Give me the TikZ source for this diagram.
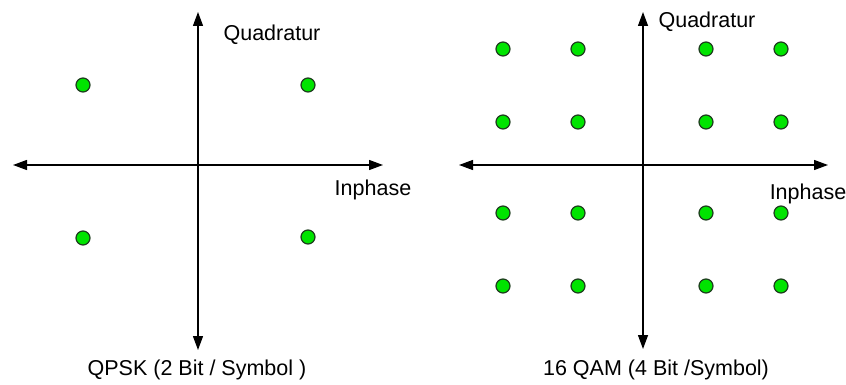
\documentclass[tikz,border=0pt]{standalone}
\usepackage{fontspec}
\setmainfont{Liberation Sans}
\usetikzlibrary{arrows.meta}
\definecolor{dotgreen}{RGB}{0,228,0}
\definecolor{dotedge}{RGB}{30,60,30}
\tikzset{
  axis/.style={line width=1.3pt, {Triangle[length=14pt,width=10pt]}-{Triangle[length=14pt,width=10pt]}},
  pt/.style={circle, fill=dotgreen, draw=dotedge, line width=1.2pt, minimum size=14pt, inner sep=0pt},
  lbl/.style={font=\fontsize{21.5}{26}\selectfont, inner sep=0pt, anchor=base}
}
\begin{document}
\begin{tikzpicture}[x=1pt,y=-1pt]
\useasboundingbox[fill=white] (0,0) rectangle (846,385);
% QPSK
\coordinate (aL) at (13,165); \coordinate (aR) at (383,165);
\coordinate (aT) at (198,12); \coordinate (aB) at (198,350);
\draw[axis] (aL) -- (aR);
\draw[axis] (aT) -- (aB);
\node[pt] (q1) at (83,85) {};
\node[pt] (q2) at (308,85) {};
\node[pt] (q3) at (83,238) {};
\node[pt] (q4) at (308,237) {};
\node[lbl] (qQ) at (272,41) {Quadratur};
\node[lbl] (qI) at (373,195) {Inphase};
\node[lbl] (qT) at (197,375) {QPSK (2 Bit / Symbol )};
% 16 QAM
\coordinate (bL) at (459,165); \coordinate (bR) at (828,165);
\coordinate (bT) at (643,12); \coordinate (bB) at (643,349);
\draw[axis] (bL) -- (bR);
\draw[axis] (bT) -- (bB);
\foreach \x [count=\i] in {503,578,706,781}
  \foreach \y [count=\j] in {49,122,213,286}
    \node[pt] (m\i\j) at (\x,\y) {};
\node[lbl] (mQ) at (707,28) {Quadratur};
\node[lbl] (mI) at (808,199) {Inphase};
\node[lbl] (mT) at (656,375) {16 QAM (4 Bit /Symbol)};
\end{tikzpicture}
\end{document}
